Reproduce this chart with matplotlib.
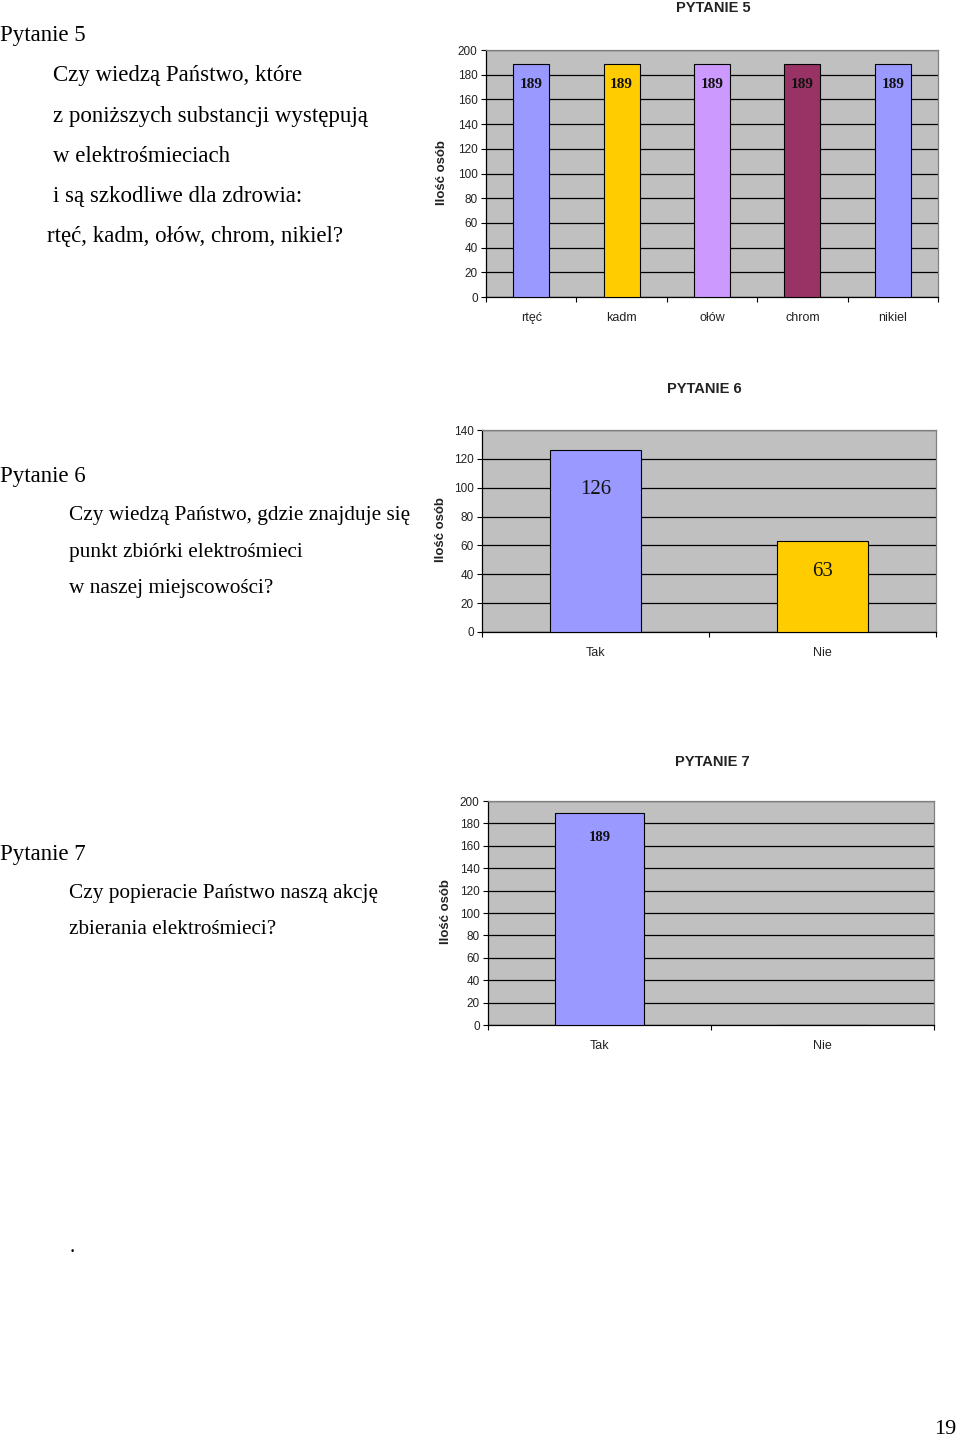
import matplotlib
matplotlib.use('Agg')
from matplotlib import pyplot as plt
from matplotlib import ticker

W, H = 960, 1440

# data
p5_categories = ['rtęć', 'kadm', 'ołów', 'chrom', 'nikiel']
p5_values = [189, 189, 189, 189, 189]
p5_colors = ['#9999FF', '#FFCC00', '#CC99FF', '#993366', '#9999FF']

p6_categories = ['Tak', 'Nie']
p6_values = [126, 63]
p6_colors = ['#9999FF', '#FFCC00']

p7_categories = ['Tak', 'Nie']
p7_values = [189, 0]
p7_colors = ['#9999FF', '#9999FF']

SERIF = 'Liberation Serif'
SANS = 'Liberation Sans'

fig = plt.figure(figsize=(W / 100, H / 100), dpi=100)
fig.set_facecolor('w')


def fx(px):
    return px / W


def fy(py):
    return 1 - py / H


def make_axes(x0, y0, x1, y1):
    # pixel box of the plot area -> figure axes
    return fig.add_axes([fx(x0), fy(y1), (x1 - x0) / W, (y1 - y0) / H])


def bar_chart(ax, cats, values, colors, ymax, step, label_style):
    n = len(cats)
    ax.set_facecolor('#C0C0C0')
    ax.set_axisbelow(True)
    ax.grid(axis='y', which='major', color='k', lw=0.9)
    pos = list(range(n))
    bars = ax.bar(pos, values, width=0.4, color=colors, edgecolor='k', lw=0.8, zorder=3)
    ax.set_xlim(-0.5, n - 0.5)
    ax.set_ylim(0, ymax)
    ax.yaxis.set_major_locator(ticker.MultipleLocator(step))
    ax.xaxis.set_major_locator(ticker.FixedLocator([i - 0.5 for i in range(n + 1)]))
    ax.xaxis.set_major_formatter(ticker.NullFormatter())
    ax.xaxis.set_minor_locator(ticker.FixedLocator(pos))
    ax.xaxis.set_minor_formatter(ticker.FixedFormatter(cats))
    ax.tick_params(axis='x', which='major', length=3.5, width=0.8, direction='out')
    ax.tick_params(axis='x', which='minor', length=0, pad=10.5, labelsize=9)
    ax.tick_params(axis='y', length=3.5, width=0.8, pad=2.5, labelsize=8.5)
    for lab in ax.get_xticklabels(minor=True) + ax.get_yticklabels():
        lab.set_fontfamily(SANS)
        lab.set_color('#222222')
    for s in ['top', 'right']:
        ax.spines[s].set_color('#808080')
        ax.spines[s].set_linewidth(0.9)
    for s in ['left', 'bottom']:
        ax.spines[s].set_color('k')
        ax.spines[s].set_linewidth(0.9)
    size, weight, offsets = label_style
    for b, v, off in zip(bars, values, offsets):
        if v <= 0:
            continue
        ax.annotate(str(v), (b.get_x() + b.get_width() / 2, v),
                    xytext=(0, -off), textcoords='offset pixels',
                    ha='center', va='center', fontsize=size, fontweight=weight,
                    family=SERIF, color='#111111', zorder=4)


# PYTANIE 5
ax5 = make_axes(486, 50, 938, 297)
bar_chart(ax5, p5_categories, p5_values, p5_colors, 200, 20,
          (11, 'bold', [21, 21, 21, 21, 21]))
fig.text(fx(713), fy(8), 'PYTANIE 5', ha='center', va='center', family=SANS,
         fontsize=10.5, fontweight='bold', color='#222222')
fig.text(fx(442), fy(173), 'Ilość osób', rotation=90, ha='center', va='center',
         family=SANS, fontsize=9.5, fontweight='bold', color='#222222')

# PYTANIE 6
ax6 = make_axes(482, 430, 936, 632)
bar_chart(ax6, p6_categories, p6_values, p6_colors, 140, 20,
          (15, 'normal', [39, 30]))
fig.text(fx(704), fy(389), 'PYTANIE 6', ha='center', va='center', family=SANS,
         fontsize=10.5, fontweight='bold', color='#222222')
fig.text(fx(441), fy(530), 'Ilość osób', rotation=90, ha='center', va='center',
         family=SANS, fontsize=9.5, fontweight='bold', color='#222222')

# PYTANIE 7
ax7 = make_axes(488, 801, 934, 1025)
bar_chart(ax7, p7_categories, p7_values, p7_colors, 200, 20,
          (10.5, 'bold', [24, 24]))
fig.text(fx(712), fy(762), 'PYTANIE 7', ha='center', va='center', family=SANS,
         fontsize=10.5, fontweight='bold', color='#222222')
fig.text(fx(446), fy(912), 'Ilość osób', rotation=90, ha='center', va='center',
         family=SANS, fontsize=9.5, fontweight='bold', color='#222222')

# left column text (x, y, text, size)
left_text = [
    (0, 33, 'Pytanie 5', 16.5),
    (53, 73, 'Czy wiedzą Państwo, które', 16.5),
    (53, 114, 'z poniższych substancji występują', 16.5),
    (53, 154, 'w elektrośmieciach', 16.5),
    (53, 194, 'i są szkodliwe dla zdrowia:', 16.5),
    (47, 234, 'rtęć, kadm, ołów, chrom, nikiel?', 16.5),
    (0, 474, 'Pytanie 6', 16.5),
    (69, 513, 'Czy wiedzą Państwo, gdzie znajduje się', 15.3),
    (69, 550, 'punkt zbiórki elektrośmieci', 15.3),
    (69, 586, 'w naszej miejscowości?', 15.3),
    (0, 852, 'Pytanie 7', 16.5),
    (69, 891, 'Czy popieracie Państwo naszą akcję', 15.3),
    (69, 927, 'zbierania elektrośmieci?', 15.3),
    (70, 1245, '.', 15.3),
]
for x, y, t, s in left_text:
    fig.text(fx(x), fy(y), t, ha='left', va='center_baseline', family=SERIF,
             fontsize=s, color='k')

fig.text(fx(956), fy(1427), '19', ha='right', va='center_baseline', family=SERIF,
         fontsize=16, color='k')

fig.savefig('out.png', dpi=100, facecolor='w')
